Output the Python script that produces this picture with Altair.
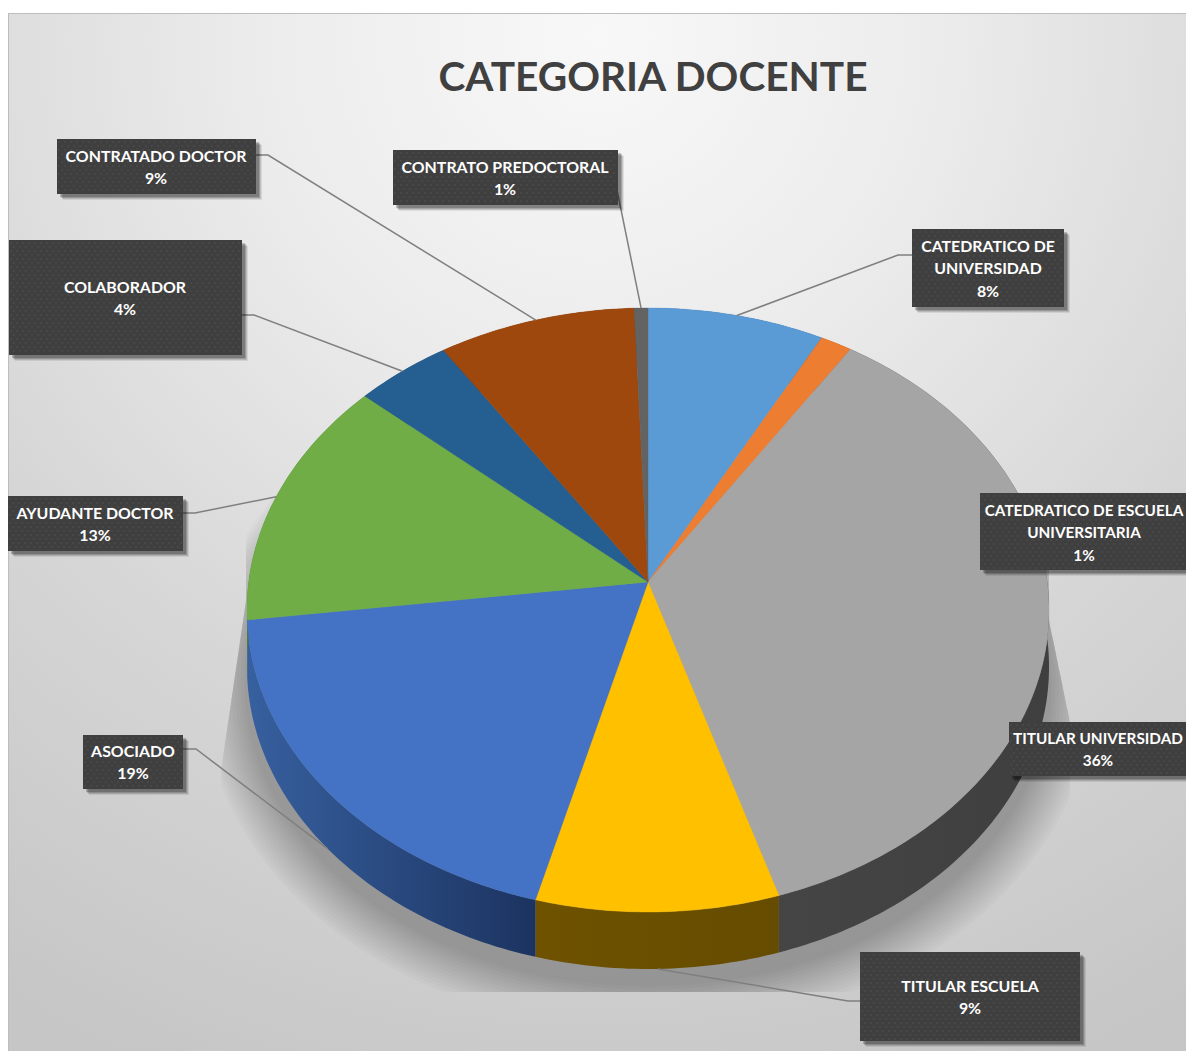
import numpy as np
import pandas as pd
import altair as alt

# ---- data ----
TITLE = "CATEGORIA DOCENTE"
NAMES = ["CATEDRATICO DE\nUNIVERSIDAD", "CATEDRATICO DE ESCUELA\nUNIVERSITARIA", "TITULAR UNIVERSIDAD",
         "TITULAR ESCUELA", "ASOCIADO", "AYUDANTE DOCTOR", "COLABORADOR", "CONTRATADO DOCTOR",
         "CONTRATO PREDOCTORAL"]
VALUES = [7.8, 1.4, 35.97, 8.96, 18.87, 13.45, 4.25, 8.7, 0.6]
PERCENT = ["8%", "1%", "36%", "9%", "19%", "13%", "4%", "9%", "1%"]

# ---- styles ----
TOP_COLORS = ["#5B9BD5", "#ED7D31", "#A5A5A5", "#FFC000", "#4472C4", "#70AD47", "#255E91", "#9E480E", "#636363"]
WALL_STOPS = [("#3a6ba0", "#2c5a85"), ("#9a4f1c", "#8a4516"), ("#454545", "#3f3f3f"), ("#6e5200", "#664c00"),
              ("#37609f", "#1c3360"), ("#4a7a2f", "#4a7a2f"), ("#1a4468", "#1a4468"), ("#6e3209", "#6e3209"),
              ("#454545", "#454545")]
# ---- layout (page pixels): label boxes, text centres and leader elbows ----
BOXES = [(912, 1064, 229, 307), (980, 1186, 493, 570), (1009, 1186, 722, 776), (860, 1080, 952, 1041),
         (83, 183, 735, 789), (8, 183, 496, 551), (9, 242, 240, 355), (57, 256, 139, 194), (393, 618, 150, 205)]
TEXT_X = [988, 1084, 1098, 970, 133, 95, 125, 156, 505]
TEXT_Y0 = [247, 511, 739, 987, 752, 514, 288, 157, 168]
TEXT_SIZE = [15.9, 15.3, 15.3, 15.9, 15.9, 15.9, 15.9, 15.9, 15.9]
LEADERS = [[(912, 255), (898, 255)], None, None, [(860, 1001), (848, 1001)], [(183, 749), (196, 749)],
           [(183, 513), (195, 513)], [(242, 315), (254, 315)], [(256, 155), (268, 155)], [(617, 190)]]
CX, CY, A, B, K, DEPTH = 648.0, 582.0, 399.3, 299.4, 0.0927, 57.0
XMIN, XMAX, YMIN, YMAX = 8.0, 1186.0, 8.0, 1051.0

XS = alt.Scale(domain=[XMIN, XMAX], range=[0, XMAX - XMIN], nice=False, zero=False)
YS = alt.Scale(domain=[YMIN, YMAX], range=[0, YMAX - YMIN], nice=False, zero=False)


def project(pct):
    th = np.radians(np.asarray(pct, dtype=float) * 3.6)
    u, v = np.sin(th), -np.cos(th)
    d = 1 - K * v
    return CX + A * u / d, CY + B * v / d


def outline(p0, p1):
    n = max(int((p1 - p0) * 4), 2)
    return project(np.linspace(p0, p1, n))


def poly(xs, ys, **mark):
    df = pd.DataFrame({"x": xs, "y": ys, "i": np.arange(len(xs))})
    return alt.Chart(df).mark_line(**mark).encode(
        x=alt.X("x:Q", scale=XS, axis=None), y=alt.Y("y:Q", scale=YS, axis=None), order="i:Q")


def rect(x0, x1, y0, y1, **mark):
    df = pd.DataFrame({"x": [x0], "x2": [x1], "y": [y0], "y2": [y1]})
    return alt.Chart(df).mark_rect(**mark).encode(
        x=alt.X("x:Q", scale=XS, axis=None), x2="x2:Q",
        y=alt.Y("y:Q", scale=YS, axis=None), y2="y2:Q")


layers = []

# background panel
layers.append(rect(XMIN - 1, XMAX, YMIN + 5, YMAX, fill="#bdbdbd"))
bg = alt.Gradient(gradient="radial", x1=0.5, y1=0.08, r1=0.0, x2=0.5, y2=0.08, r2=0.95,
                  stops=[alt.GradientStop(offset=0, color="#f8f8f8"),
                         alt.GradientStop(offset=0.3, color="#ececec"),
                         alt.GradientStop(offset=0.65, color="#d6d6d6"),
                         alt.GradientStop(offset=1, color="#c6c6c6")])
layers.append(rect(XMIN + 1, XMAX, YMIN + 6, YMAX, fill=bg))

# soft clipped shadow under the pie
ox, oy = outline(0, 100)
oy = oy + DEPTH
for k in range(14, 0, -1):
    grow = k * 3.2
    sx = CX + (ox - CX) * (1 + grow / 400)
    sy = CY + DEPTH + 14 + (oy - CY - DEPTH) * (1 + grow / 310)
    sy = np.minimum(sy, 992)
    left = np.where(sy < 770, 246 - (sy - 600).clip(0) * 25 / 170, 221)
    right = np.where(sy < 722, 1049 + (sy - 620).clip(0) * 21 / 102, 1070)
    sx = np.clip(sx, left, right)
    layers.append(poly(sx, sy, fill="#000000", fillOpacity=0.021, strokeWidth=0))

# pie walls and tops
edges = np.concatenate([[0], np.cumsum(VALUES)])
for i in range(len(VALUES)):
    ax, ay = outline(edges[i], edges[i + 1])
    wall = alt.Gradient(gradient="linear", x1=0, y1=0, x2=1, y2=0,
                        stops=[alt.GradientStop(offset=0, color=WALL_STOPS[i][0]),
                               alt.GradientStop(offset=1, color=WALL_STOPS[i][1])])
    layers.append(poly(np.r_[ax, ax[::-1]], np.r_[ay, ay[::-1] + DEPTH], fill=wall, strokeWidth=0))
for i in range(len(VALUES)):
    ax, ay = outline(edges[i], edges[i + 1])
    layers.append(poly(np.r_[CX, ax, CX], np.r_[CY, ay, CY], fill=TOP_COLORS[i],
                       stroke=TOP_COLORS[i], strokeWidth=0.4))

# leader lines: each ends at the middle of its slice's outer edge (on the wall for front slices)
for i, pts in enumerate(LEADERS):
    if pts is None:
        continue
    mx, my = project((edges[i] + edges[i + 1]) / 2)
    if my > CY + 150:
        my = my + DEPTH
    xs = [p[0] for p in pts] + [float(mx)]
    ys = [p[1] for p in pts] + [float(my)]
    layers.append(poly(xs, ys, stroke="#7f7f7f", strokeWidth=1.5))

# label boxes: shadow, face, dotted texture
for b in BOXES:
    for off, op in ((6, 0.08), (5, 0.12), (4, 0.16), (3, 0.2)):
        layers.append(rect(b[0] + off, min(b[1] + off, XMAX), b[2] + off, b[3] + off, fill="#000000", opacity=op))
for b in BOXES:
    layers.append(rect(b[0], b[1], b[2], b[3], fill="#3f3f3f"))
dot_x, dot_y = [], []
for b in BOXES:
    for r, yy in enumerate(np.arange(b[2] + 3, b[3] - 1, 4.0)):
        for xx in np.arange(b[0] + 2 + (r % 2) * 3, b[1] - 1, 6.0):
            dot_x.append(float(xx))
            dot_y.append(float(yy))
layers.append(alt.Chart(pd.DataFrame({"x": dot_x, "y": dot_y})).mark_square(size=1.6, color="#5c5c5c", opacity=0.6).encode(
    x=alt.X("x:Q", scale=XS, axis=None), y=alt.Y("y:Q", scale=YS, axis=None)))

# label text
rows = []
for i, name in enumerate(NAMES):
    for j, line in enumerate(name.split("\n") + [PERCENT[i]]):
        rows.append({"t": line, "x": TEXT_X[i], "y": TEXT_Y0[i] + j * 22.3, "s": TEXT_SIZE[i]})
layers.append(alt.Chart(pd.DataFrame(rows)).mark_text(
    font="Lato", fontWeight="bold", color="#ffffff", align="center", baseline="middle"
).encode(x=alt.X("x:Q", scale=XS, axis=None), y=alt.Y("y:Q", scale=YS, axis=None), text="t:N",
         size=alt.Size("s:Q", scale=None, legend=None)))

# title
layers.append(alt.Chart(pd.DataFrame({"t": [TITLE], "x": [653], "y": [79]})).mark_text(
    font="Lato", fontSize=40.6, fontWeight="bold", color="#404040", align="center", baseline="middle"
).encode(x=alt.X("x:Q", scale=XS, axis=None), y=alt.Y("y:Q", scale=YS, axis=None), text="t:N"))

chart = alt.layer(*layers).properties(
    width=XMAX - XMIN, height=YMAX - YMIN, padding=0, background="#ffffff",
    autosize=alt.AutoSizeParams(type="none")
).configure_view(stroke=None)

chart.save("out.html", embed_options={"renderer": "svg", "actions": False})
